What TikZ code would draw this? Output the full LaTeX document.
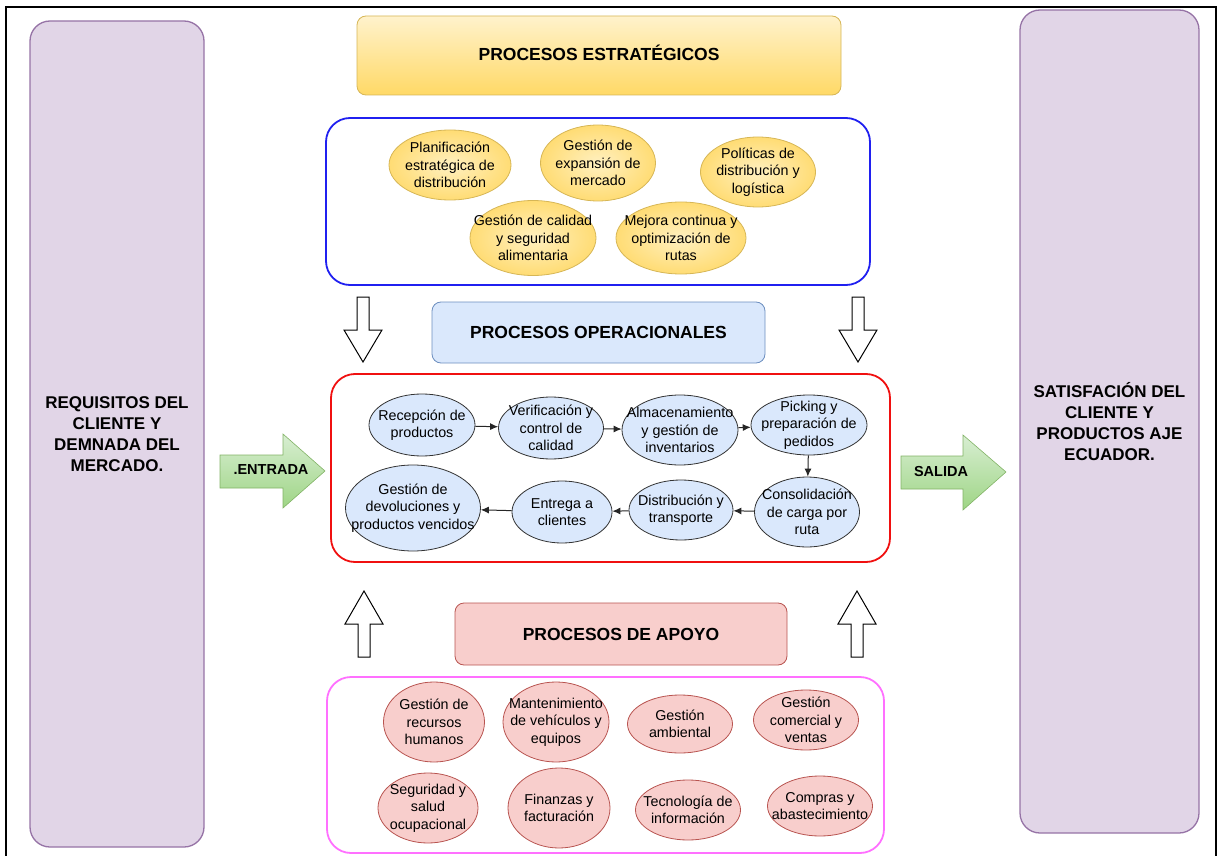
\documentclass[tikz,border=0pt]{standalone}
\usepackage{fontspec}
\setmainfont{Liberation Sans}
\usetikzlibrary{shapes.geometric,arrows.meta}

\definecolor{lilacfill}{HTML}{E1D5E7}
\definecolor{lilacline}{HTML}{9673A6}
\definecolor{goldtop}{HTML}{FFF2CC}
\definecolor{goldbot}{HTML}{FFD966}
\definecolor{goldmid}{HTML}{FFF0C0}
\definecolor{goldedge}{HTML}{FFDC74}
\definecolor{goldline}{HTML}{D6B656}
\definecolor{skyfill}{HTML}{DAE8FC}
\definecolor{skyline}{HTML}{6C8EBF}
\definecolor{rosefill}{HTML}{F8CECC}
\definecolor{roseline}{HTML}{B85450}
\definecolor{leaftop}{HTML}{D8EED2}
\definecolor{leafbot}{HTML}{9ED585}
\definecolor{leafline}{HTML}{82B366}
\definecolor{frameblue}{HTML}{2020F0}
\definecolor{framered}{HTML}{F01010}
\definecolor{framepink}{HTML}{FF70FF}

\tikzset{
  sidecol/.style={draw=lilacline, fill=lilacfill, line width=1.3pt, rounded corners=20pt,
    align=center, font=\fontsize{17}{21}\selectfont\bfseries},
  titlebox/.style={rounded corners=9pt, line width=0.8pt, align=center,
    font=\fontsize{17.5}{20}\selectfont\bfseries},
  groupbox/.style={rounded corners=24pt, line width=1.8pt},
  % ellipse of fixed size; its text is a centred label so it may overflow the outline
  oval/.style={ellipse, inner sep=0pt, line width=0.8pt},
  ovaltext/.style={align=center, inner sep=0pt, font=\fontsize{14.3}{17.5}\selectfont},
  says/.style={label={[ovaltext]center:{#1}}},
  stratoval/.style={oval, draw=goldline, shading=radial, inner color=goldmid, outer color=goldedge},
  opoval/.style={oval, draw=black!80, fill=skyfill},
  supoval/.style={oval, draw=roseline, fill=rosefill},
  flow/.style={-{Latex[length=8pt,width=7pt]}, line width=1pt, draw=black!85},
  hollow/.style={draw=black, fill=white, line width=1pt, line join=miter},
  greenarrow/.style={draw=leafline, top color=leaftop, bottom color=leafbot, line width=0.6pt},
  arrowtext/.style={font=\fontsize{14.5}{16}\selectfont\bfseries}
}

\begin{document}
\begin{tikzpicture}[x=1pt, y=-1pt]
\useasboundingbox (0,0) rectangle (1219,856);

% outer frame
\draw[line width=2pt] (6,7) rectangle (1216,875);

% side columns
\node[sidecol, minimum width=174pt, minimum height=826pt] (req) at (117,434)
  {REQUISITOS DEL\\CLIENTE Y\\DEMNADA DEL\\MERCADO.};
\node[sidecol, minimum width=179pt, minimum height=823pt] (sat) at (1109.5,421.5)
  {SATISFACIÓN DEL\\CLIENTE Y\\PRODUCTOS AJE\\ECUADOR.};

% strategic processes
\node[titlebox, draw=goldline, top color=goldtop, bottom color=goldbot,
  minimum width=484pt, minimum height=79pt] (estr) at (599,55.5) {};
\node[titlebox, inner sep=0pt] (estrtxt) at (599,53) {PROCESOS ESTRATÉGICOS};
\node[groupbox, draw=frameblue, minimum width=544pt, minimum height=167pt] (gestr) at (598,201.5) {};

\node[stratoval, minimum width=122pt, minimum height=70pt,
  says={Planificación\\estratégica de\\distribución}] (s1) at (450,165) {};
\node[stratoval, minimum width=115pt, minimum height=76pt,
  says={Gestión de\\expansión de\\mercado}] (s2) at (598,163) {};
\node[stratoval, minimum width=115pt, minimum height=70pt,
  says={Políticas de\\distribución y\\logística}] (s3) at (758,172) {};
\node[stratoval, minimum width=126pt, minimum height=75pt,
  says={Gestión de calidad\\y seguridad\\alimentaria}] (s4) at (533,238) {};
\node[stratoval, minimum width=130pt, minimum height=72pt,
  says={Mejora continua y\\optimización de\\rutas}] (s5) at (681,238) {};

% hollow down arrows
\draw[hollow] (357,297) -- (369,297) -- (369,330) -- (382,330) -- (363,362)
  -- (344,330) -- (357,330) -- cycle;
\draw[hollow] (852,297) -- (864,297) -- (864,330) -- (877,330) -- (858,362)
  -- (839,330) -- (852,330) -- cycle;

% operational processes
\node[titlebox, draw=skyline, fill=skyfill, minimum width=333pt, minimum height=61pt]
  (oper) at (598.5,332.5) {PROCESOS OPERACIONALES};
\node[groupbox, draw=framered, minimum width=559pt, minimum height=188pt] (goper) at (610.5,468) {};

\node[opoval, minimum width=106pt, minimum height=62pt,
  says={Recepción de\\productos}] (o1) at (422,425) {};
\node[opoval, minimum width=105pt, minimum height=62pt,
  says={Verificación y\\control de\\calidad}] (o2) at (551,428) {};
\node[opoval, minimum width=116pt, minimum height=70pt,
  says={Almacenamiento\\y gestión de\\inventarios}] (o3) at (680,430) {};
\node[opoval, minimum width=116pt, minimum height=60pt,
  says={Picking y\\preparación de\\pedidos}] (o4) at (809,425) {};
\node[opoval, minimum width=105pt, minimum height=70pt,
  says={Consolidación\\de carga por\\ruta}] (o5) at (807,512) {};
\node[opoval, minimum width=104pt, minimum height=60pt,
  says={Distribución y\\transporte}] (o6) at (681,510) {};
\node[opoval, minimum width=100pt, minimum height=62pt,
  says={Entrega a\\clientes}] (o7) at (562,512) {};
\node[opoval, minimum width=135pt, minimum height=86pt,
  says={Gestión de\\devoluciones y\\productos vencidos}] (o8) at (413,508) {};

\draw[flow] (o1) -- (o2);
\draw[flow] (o2) -- (o3);
\draw[flow] (o3) -- (o4);
\draw[flow] (o4) -- (o5);
\draw[flow] (o5) -- (o6);
\draw[flow] (o6) -- (o7);
\draw[flow] (o7) -- (o8);

% input / output arrows
\draw[greenarrow] (220,455) -- (283,455) -- (283,434) -- (325,471) -- (283,508)
  -- (283,488) -- (220,488) -- cycle;
\node[arrowtext] (entrada) at (271,470) {.ENTRADA};
\draw[greenarrow] (901,456) -- (963,456) -- (963,435) -- (1006,472) -- (963,510)
  -- (963,489) -- (901,489) -- cycle;
\node[arrowtext] (salida) at (941,472) {SALIDA};

% hollow up arrows
\draw[hollow] (358,657) -- (370,657) -- (370,624) -- (383,624) -- (364,591)
  -- (345,624) -- (358,624) -- cycle;
\draw[hollow] (851,657) -- (863,657) -- (863,624) -- (876,624) -- (857,591)
  -- (838,624) -- (851,624) -- cycle;

% support processes
\node[titlebox, draw=roseline, fill=rosefill, minimum width=332pt, minimum height=62pt]
  (apoyo) at (621,634) {PROCESOS DE APOYO};
\node[groupbox, draw=framepink, minimum width=557pt, minimum height=176pt] (gapoyo) at (605.5,765) {};

\node[supoval, minimum width=101pt, minimum height=80pt,
  says={Gestión de\\recursos\\humanos}] (a1) at (434,722) {};
\node[supoval, minimum width=106pt, minimum height=80pt,
  says={Mantenimiento\\de vehículos y\\equipos}] (a2) at (556,722) {};
\node[supoval, minimum width=105pt, minimum height=58pt,
  says={Gestión\\ambiental}] (a3) at (680,724) {};
\node[supoval, minimum width=105pt, minimum height=60pt,
  says={Gestión\\comercial y\\ventas}] (a4) at (806,720) {};
\node[supoval, minimum width=100pt, minimum height=70pt,
  says={Seguridad y\\salud\\ocupacional}] (a5) at (428,808) {};
\node[supoval, minimum width=102pt, minimum height=80pt,
  says={Finanzas y\\facturación}] (a6) at (559,808) {};
\node[supoval, minimum width=105pt, minimum height=60pt,
  says={Tecnología de\\información}] (a7) at (688,810) {};
\node[supoval, minimum width=105pt, minimum height=60pt,
  says={Compras y\\abastecimiento}] (a8) at (820,806) {};
\end{tikzpicture}
\end{document}
